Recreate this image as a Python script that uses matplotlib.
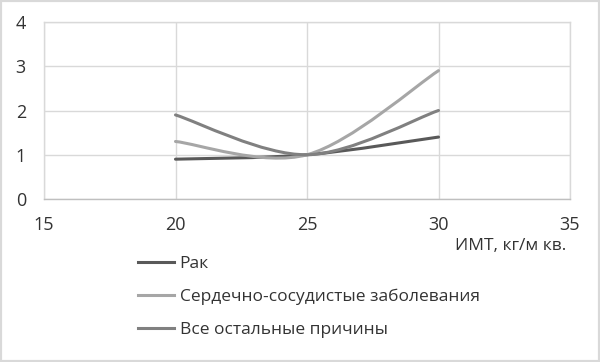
import matplotlib
matplotlib.use("Agg")
import matplotlib.pyplot as plt
from matplotlib.path import Path
from matplotlib.patches import PathPatch, Rectangle
from matplotlib.lines import Line2D

plt.rcParams['font.family'] = ['Open Sans', 'DejaVu Sans']

bmi = [20, 25, 30]
series_names = ["Рак", "Сердечно-сосудистые заболевания", "Все остальные причины"]
cancer = [0.9, 1.0, 1.4]
cvd = [1.3, 1.0, 2.9]
other = [1.9, 1.0, 2.0]
x_ticks = [15, 20, 25, 30, 35]
y_ticks = [0, 1, 2, 3, 4]
x_label = "ИМТ, кг/м кв."

colors = ["#595959", "#a6a6a6", "#808080"]
text_color = "#333333"
grid_color = "#d9d9d9"


def smooth_path(xs, ys):
    pts = list(zip(xs, ys))
    n = len(pts)
    verts = [pts[0]]
    codes = [Path.MOVETO]
    for i in range(n - 1):
        p0 = pts[i - 1] if i > 0 else pts[i]
        p1 = pts[i]
        p2 = pts[i + 1]
        p3 = pts[i + 2] if i + 2 < n else pts[i + 1]
        c1 = (p1[0] + (p2[0] - p0[0]) / 6, p1[1] + (p2[1] - p0[1]) / 6)
        c2 = (p2[0] - (p3[0] - p1[0]) / 6, p2[1] - (p3[1] - p1[1]) / 6)
        verts += [c1, c2, p2]
        codes += [Path.CURVE4] * 3
    return Path(verts, codes)


fig = plt.figure(figsize=(6.0, 3.62), dpi=100)
ax = fig.add_axes([44 / 600, 1 - 199 / 362, (570 - 44) / 600, (199 - 22) / 362])

ax.set_xlim(x_ticks[0], x_ticks[-1])
ax.set_ylim(y_ticks[0], y_ticks[-1])
ax.set_xticks(x_ticks)
ax.set_yticks(y_ticks)
ax.grid(True, color=grid_color, linewidth=1.0)
ax.set_axisbelow(True)
for s in ax.spines.values():
    s.set_color(grid_color)
    s.set_linewidth(1.0)
ax.spines['bottom'].set_color("#bfbfbf")
ax.tick_params(axis='x', length=0, labelsize=13, labelcolor=text_color, pad=12)
ax.tick_params(axis='y', length=0, labelsize=13, labelcolor=text_color, pad=13)

handles = []
for ys, c, name in zip([cancer, cvd, other], colors, series_names):
    patch = PathPatch(smooth_path(bmi, ys), facecolor='none', edgecolor=c,
                      linewidth=2.2, capstyle='round', joinstyle='round')
    ax.add_patch(patch)
    handles.append(Line2D([], [], color=c, linewidth=2.2, label=name))

fig.text(566 / 600, 1 - 246 / 362, x_label, ha='right', va='center',
         fontsize=12.5, color=text_color)

leg = fig.legend(handles=handles, loc='upper left',
                 bbox_to_anchor=(138 / 600, 1 - 256 / 362), frameon=False,
                 fontsize=12.5, labelcolor=text_color, handlelength=2.1,
                 handletextpad=0.3, labelspacing=0.97, borderaxespad=0,
                 borderpad=0)

fig.patches.append(Rectangle((0, 0), 1, 1, transform=fig.transFigure,
                             fill=False, edgecolor="#d9d9d9", linewidth=3))

fig.savefig("out.png", dpi=100)
